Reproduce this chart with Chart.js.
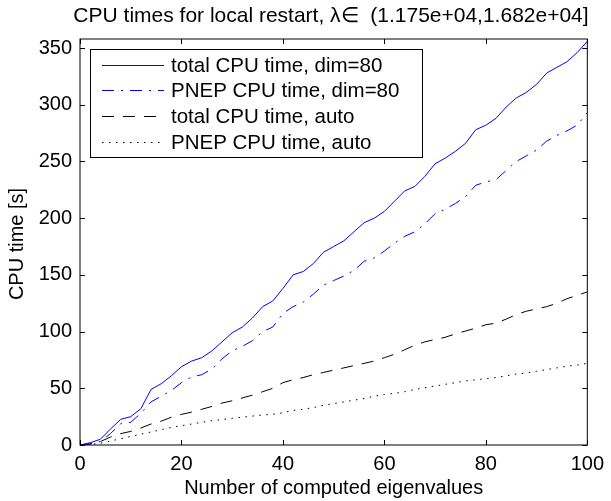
<!DOCTYPE html>
<html>
<head>
<meta charset="utf-8">
<script src="https://cdn.jsdelivr.net/npm/chart.js@4.4.1/dist/chart.umd.min.js"></script>
<style>
  html, body { margin: 0; padding: 0; background: #fff; }
  canvas { display: block; }
</style>
</head>
<body>
<canvas id="chart" width="611" height="501"></canvas>
<script>
// number of computed eigenvalues
const eigCount = [0, 2, 4, 6, 8, 10, 12, 14, 16, 18, 20, 22, 24, 26, 28, 30, 32, 34, 36, 38, 40,
  42, 44, 46, 48, 50, 52, 54, 56, 58, 60, 62, 64, 66, 68, 70, 72, 74, 76, 78, 80,
  82, 84, 86, 88, 90, 92, 94, 96, 98, 100];

// CPU times [s]
const totalDim80 = [0, 2, 5, 14, 22.6, 25, 32, 49, 54, 61, 69, 74, 77, 83, 91, 99, 104, 112, 122, 127, 138,
  150, 153, 160, 170, 175, 180, 188, 196, 200, 206, 215, 224, 228, 237, 248, 253, 259, 266, 278, 282,
  288, 298, 306, 311, 318, 328, 333, 338, 346, 356];
const pnepDim80 = [0, 1, 3, 10, 18.7, 20, 28, 38, 43, 48, 55, 60, 62, 67, 76, 83, 87, 92, 100, 104, 116,
  122, 126, 133, 141, 145, 149, 154, 162, 165, 171, 178, 184, 188, 195, 204, 208, 213, 219, 229, 232,
  234, 242, 250, 255, 260, 268, 273, 277, 282, 293];
const totalAuto = [0, 1, 3, 7, 10, 12, 15, 18.5, 21, 24.5, 27, 29, 31.5, 34, 37, 39, 41.5, 44, 47, 50, 55,
  57.5, 59.5, 62, 64, 66, 68, 70, 72, 74, 77, 80, 84, 88, 91, 93, 95, 98, 100.5, 103, 106,
  107.5, 111, 115, 118, 120, 122, 125, 129, 132, 135];
const pnepAuto = [0, 0.5, 1.5, 3.5, 5.5, 7.5, 9.5, 11.5, 13.5, 15.5, 17, 18.5, 20, 21.5, 22.5, 23.5, 24.5, 25.5, 26.5, 27, 28.5,
  30.5, 31.5, 33, 35, 36.5, 38, 39.5, 41, 43, 44.5, 45.5, 47, 49, 50.5, 52, 53.5, 55, 56.5, 57.5, 58.5,
  59.5, 61, 62.5, 63.5, 65, 66.5, 68, 69.5, 70.5, 72];

const seriesLabels = ['total CPU time, dim=80', 'PNEP CPU time, dim=80', 'total CPU time, auto', 'PNEP CPU time, auto'];
const xTicks = [0, 20, 40, 60, 80, 100];
const yTicks = [0, 50, 100, 150, 200, 250, 300, 350];

const titleText = 'CPU times for local restart, \u03bb\u2208  (1.175e+04,1.682e+04]';
const xTitle = 'Number of computed eigenvalues';
const yTitle = 'CPU time [s]';

const FONT = "'Liberation Sans', Arial, Helvetica, sans-serif";

const toPoints = ys => ys.map((y, i) => ({ x: eigCount[i], y }));

// MATLAB style frame: box, inward ticks on all sides, legend and texts
const frame = {
  id: 'frame',
  afterDraw(chart) {
    const { ctx, chartArea: a, scales } = chart;
    ctx.save();
    ctx.strokeStyle = '#000';
    ctx.lineWidth = 1;
    ctx.strokeRect(a.left, a.top, a.right - a.left, a.bottom - a.top);

    const tl = 5;
    ctx.beginPath();
    xTicks.forEach(v => {
      const px = Math.round(scales.x.getPixelForValue(v)) + 0.5;
      ctx.moveTo(px, a.bottom); ctx.lineTo(px, a.bottom - tl);
      ctx.moveTo(px, a.top); ctx.lineTo(px, a.top + tl);
    });
    yTicks.forEach(v => {
      const py = Math.round(scales.y.getPixelForValue(v)) + 0.5;
      ctx.moveTo(a.left, py); ctx.lineTo(a.left + tl, py);
      ctx.moveTo(a.right, py); ctx.lineTo(a.right - tl, py);
    });
    ctx.stroke();

    // legend
    const lx = a.left + 10, ly = a.top + 10, lw = 332, lh = 108;
    ctx.fillStyle = '#fff';
    ctx.fillRect(lx, ly, lw, lh);
    ctx.strokeRect(lx + 0.5, ly + 0.5, lw, lh);
    ctx.font = '20.5px ' + FONT;
    ctx.textBaseline = 'middle';
    ctx.textAlign = 'left';
    chart.data.datasets.forEach((ds, i) => {
      const ry = Math.round(ly + 15.5 + i * 25.8) + 0.5;
      ctx.save();
      ctx.strokeStyle = ds.borderColor;
      ctx.lineWidth = ds.borderWidth;
      ctx.setLineDash(ds.borderDash || []);
      ctx.beginPath();
      ctx.moveTo(lx + 12, ry);
      ctx.lineTo(lx + 74, ry);
      ctx.stroke();
      ctx.restore();
      ctx.fillStyle = '#000';
      ctx.fillText(ds.label, lx + 81, ry + 1);
    });

    // title and axis titles
    ctx.fillStyle = '#000';
    ctx.textAlign = 'center';
    ctx.font = '21px ' + FONT;
    ctx.fillText(titleText, 331, 16);
    ctx.font = '20px ' + FONT;
    ctx.fillText(xTitle, (a.left + a.right) / 2, 488);
    ctx.translate(17, (a.top + a.bottom) / 2 + 2);
    ctx.rotate(-Math.PI / 2);
    ctx.fillText(yTitle, 0, 0);
    ctx.restore();
  }
};

new Chart(document.getElementById('chart'), {
  type: 'line',
  data: {
    datasets: [
      { label: seriesLabels[0], data: toPoints(totalDim80), borderColor: 'rgb(0,0,255)', borderWidth: 1, borderDash: [] },
      { label: seriesLabels[1], data: toPoints(pnepDim80), borderColor: 'rgb(0,0,255)', borderWidth: 1, borderDash: [12, 7, 2, 7] },
      { label: seriesLabels[2], data: toPoints(totalAuto), borderColor: '#000', borderWidth: 1, borderDash: [12, 9] },
      { label: seriesLabels[3], data: toPoints(pnepAuto), borderColor: '#000', borderWidth: 1, borderDash: [1.5, 5.5] }
    ]
  },
  options: {
    responsive: false,
    animation: false,
    events: [],
    elements: { point: { radius: 0 }, line: { tension: 0, fill: false } },
    layout: { padding: { left: 0, top: 39, right: 17, bottom: 0 } },
    plugins: { legend: { display: false }, title: { display: false }, tooltip: { enabled: false } },
    scales: {
      x: {
        type: 'linear', min: 0, max: 100,
        grid: { display: false, drawTicks: false },
        border: { display: false },
        afterFit: s => { s.height = 56; },
        afterBuildTicks: s => { s.ticks = xTicks.map(v => ({ value: v })); },
        ticks: { font: { family: FONT, size: 20 }, color: '#000', padding: 7, maxRotation: 0 }
      },
      y: {
        type: 'linear', min: 0, max: 358,
        grid: { display: false, drawTicks: false },
        border: { display: false },
        afterFit: s => { s.width = 80; },
        afterBuildTicks: s => { s.ticks = yTicks.map(v => ({ value: v })); },
        ticks: { font: { family: FONT, size: 20 }, color: '#000', padding: 8 }
      }
    }
  },
  plugins: [frame]
});
</script>
</body>
</html>
